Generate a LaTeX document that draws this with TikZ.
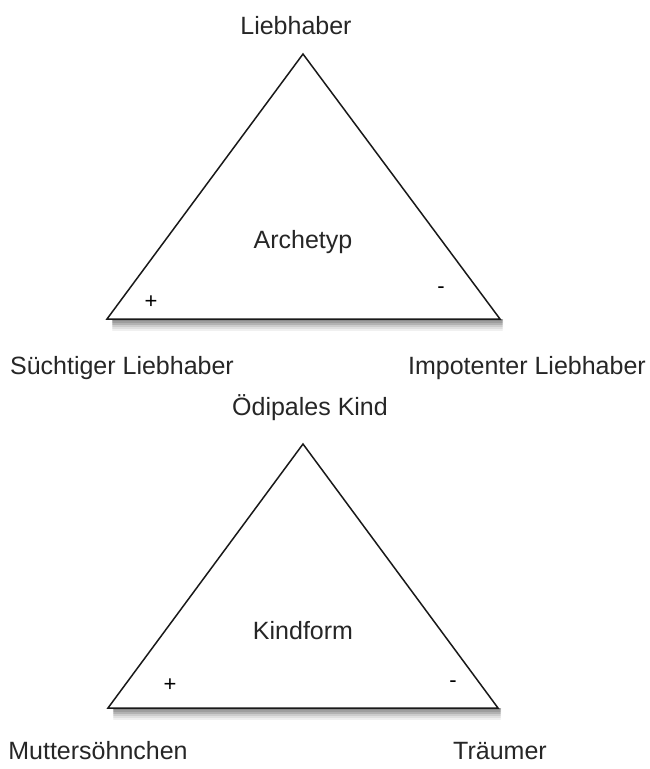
\documentclass[tikz,border=0pt]{standalone}
\usepackage{fontspec}
\setmainfont{Liberation Sans}
\begin{document}
\begin{tikzpicture}[x=1pt,y=-1pt,
  lbl/.style={font=\fontsize{25}{29}\selectfont, text=black!85, inner sep=0pt},
  sgn/.style={font=\fontsize{22}{26}\selectfont, inner sep=0pt},
  tri/.style={draw=black!90, line width=1.5pt, fill=white, line join=miter}]
\useasboundingbox (0,0) rectangle (649,769);
% shadows
\foreach \bl/\br/\by in {107/500/319, 108/498/708}{
  \foreach \d/\op in {1/0.45,3/0.38,5/0.3,7/0.2,9/0.12,11/0.06}{
    \draw[line width=2.5pt, draw=black, opacity=\op, line cap=round] (\bl+6,\by+\d) -- (\br+2,\by+\d);
  }
}
% triangle 1
\coordinate (t1) at (303,54);
\coordinate (l1) at (107,319);
\coordinate (r1) at (500,319);
\draw[tri] (t1) -- (r1) -- (l1) -- cycle;
\node[lbl] (top1) at (296,26) {Liebhaber};
\node[lbl] (mid1) at (303,242) {Archetyp};
\node[sgn] (p1) at (151,302) {+};
\node[sgn] (m1) at (441,290) {-};
\node[lbl] (left1) at (122,368) {Süchtiger Liebhaber};
\node[lbl] (right1) at (527,368) {Impotenter Liebhaber};
% triangle 2
\coordinate (t2) at (303,444);
\coordinate (l2) at (108,708);
\coordinate (r2) at (498,708);
\draw[tri] (t2) -- (r2) -- (l2) -- cycle;
\node[lbl] (top2) at (310,408) {Ödipales Kind};
\node[lbl] (mid2) at (303,631) {Kindform};
\node[sgn] (p2) at (170,685) {+};
\node[sgn] (m2) at (453,684) {-};
\node[lbl] (left2) at (98,751) {Muttersöhnchen};
\node[lbl] (right2) at (500,751) {Träumer};
\end{tikzpicture}
\end{document}
